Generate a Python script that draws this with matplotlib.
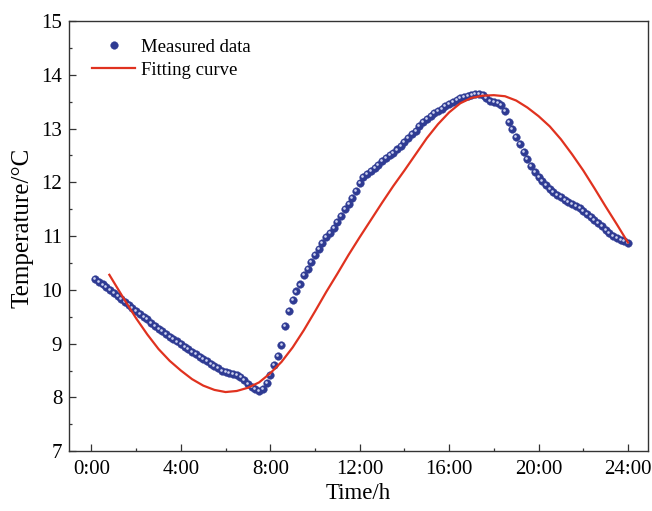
import numpy as np
import matplotlib
matplotlib.use("Agg")
import matplotlib.pyplot as plt
from matplotlib.ticker import MultipleLocator, FuncFormatter
from matplotlib.transforms import ScaledTranslation

# measured temperature, one value every 10 min from 0:10 to 24:00 (one row per hour)
measured = [
    10.20, 10.15, 10.10, 10.05, 10.00, 9.95,
    9.89, 9.83, 9.77, 9.71, 9.66, 9.60,
    9.55, 9.50, 9.45, 9.39, 9.33, 9.28,
    9.23, 9.18, 9.13, 9.08, 9.04, 8.99,
    8.94, 8.90, 8.85, 8.81, 8.76, 8.72,
    8.67, 8.63, 8.58, 8.54, 8.50, 8.47,
    8.45, 8.44, 8.42, 8.38, 8.32, 8.25,
    8.19, 8.15, 8.12, 8.15, 8.26, 8.42,
    8.60, 8.77, 8.98, 9.33, 9.60, 9.82,
    9.97, 10.10, 10.27, 10.39, 10.52, 10.65,
    10.76, 10.87, 10.98, 11.06, 11.15, 11.27,
    11.38, 11.50, 11.60, 11.71, 11.83, 11.99,
    12.10, 12.16, 12.21, 12.27, 12.33, 12.39,
    12.45, 12.50, 12.55, 12.61, 12.68, 12.75,
    12.82, 12.89, 12.96, 13.05, 13.12, 13.18,
    13.24, 13.28, 13.33, 13.37, 13.41, 13.45,
    13.49, 13.53, 13.56, 13.59, 13.61, 13.63,
    13.64, 13.64, 13.62, 13.56, 13.51, 13.49,
    13.48, 13.44, 13.32, 13.13, 12.99, 12.84,
    12.71, 12.57, 12.43, 12.30, 12.20, 12.10,
    12.02, 11.95, 11.88, 11.82, 11.77, 11.72,
    11.68, 11.64, 11.60, 11.56, 11.52, 11.47,
    11.41, 11.36, 11.30, 11.24, 11.18, 11.12,
    11.06, 11.01, 10.97, 10.93, 10.90, 10.88,
]
measured_time = np.arange(1, len(measured) + 1) / 6.0

fit_time = [0.8, 1.5, 2.0, 2.5, 3.0, 3.5, 4.0, 4.5, 5.0, 5.5, 6.0, 6.5, 7.0, 7.5,
            8.0, 8.5, 9.0, 9.5, 10.0, 10.5, 11.0, 11.5, 12.0, 12.5, 13.0, 13.5,
            14.0, 14.5, 15.0, 15.5, 16.0, 16.5, 17.0, 17.5, 18.0, 18.5, 19.0,
            19.5, 20.0, 20.5, 21.0, 21.5, 22.0, 22.5, 23.0, 23.5, 24.0]
fit_temp = [10.28, 9.80, 9.47, 9.17, 8.90, 8.68, 8.50, 8.34, 8.22, 8.14, 8.10, 8.12,
            8.18, 8.28, 8.45, 8.66, 8.93, 9.25, 9.60, 9.96, 10.30, 10.65, 10.98,
            11.30, 11.62, 11.93, 12.22, 12.52, 12.82, 13.08, 13.30, 13.47, 13.57,
            13.61, 13.62, 13.60, 13.52, 13.39, 13.23, 13.04, 12.80, 12.52, 12.22,
            11.89, 11.55, 11.22, 10.88]

x_ticks = [0, 4, 8, 12, 16, 20, 24]

plt.rcParams['font.family'] = ['Liberation Serif', 'DejaVu Serif']

fig = plt.figure(figsize=(6.52, 5.11), dpi=100)
ax = fig.add_axes([0.106, 0.117, 0.888, 0.842])

blue = '#2f3b93'
red = '#e0321f'

dots, = ax.plot(measured_time, measured, 'o', ms=5.5, color=blue, mec=blue, mew=0.3, zorder=3)
# small light spot on each ball, shifted up-left
shift = ax.transData + ScaledTranslation(-0.7 / 72, 0.7 / 72, fig.dpi_scale_trans)
ax.plot(measured_time, measured, 'o', ms=1.9, color='#cfd3f0', mec='none',
        transform=shift, zorder=4)
curve, = ax.plot(fit_time, fit_temp, '-', color=red, lw=1.6, zorder=5)

ax.set_xlim(-1, 24.9)
ax.set_ylim(7, 15)
ax.set_xticks(x_ticks)
ax.xaxis.set_major_formatter(FuncFormatter(lambda v, p: '%d:00' % int(v)))
ax.xaxis.set_minor_locator(MultipleLocator(2))
ax.yaxis.set_major_locator(MultipleLocator(1))
ax.yaxis.set_minor_locator(MultipleLocator(0.5))
ax.tick_params(which='both', direction='in', labelsize=15, color='#333333')
ax.tick_params(which='major', length=5, width=0.9)
ax.tick_params(which='minor', length=2.5, width=0.9)
ax.tick_params(axis='x', pad=6)
ax.tick_params(axis='y', pad=5)
for s in ax.spines.values():
    s.set_linewidth(1.0)
    s.set_color('#333333')

ax.set_xlabel('Time/h', fontsize=16.5, labelpad=3)
ax.set_ylabel('Temperature/\u00b0C', fontsize=18)
ax.yaxis.set_label_coords(-0.062, 0.52)

ax.legend([dots, curve], ['Measured data', 'Fitting curve'],
          loc='upper left', bbox_to_anchor=(0.02, 0.985), frameon=False,
          fontsize=13.5, handlelength=2.3, handletextpad=0.3, labelspacing=0.3,
          borderaxespad=0.2)

plt.savefig('out.png', dpi=100)
